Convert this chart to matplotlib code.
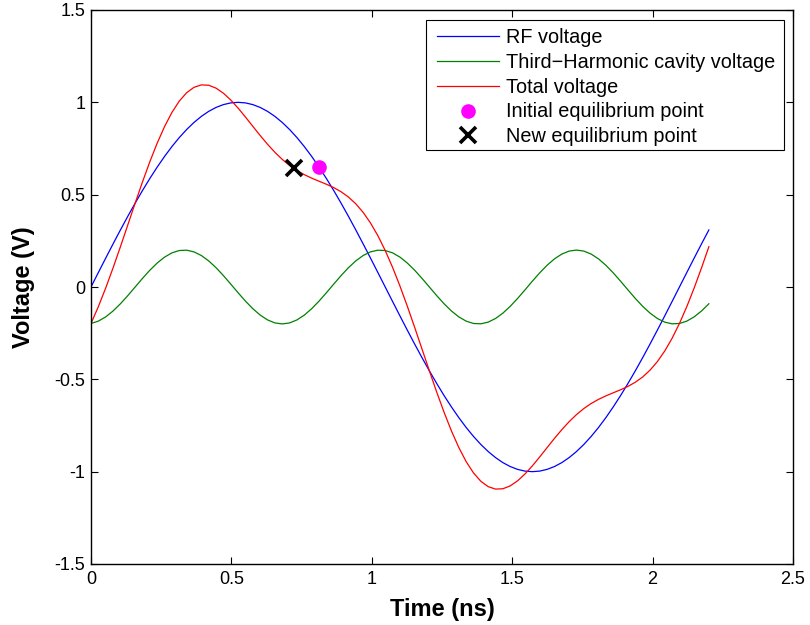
import matplotlib
matplotlib.use("Agg")
import matplotlib.pyplot as plt
from matplotlib.ticker import FuncFormatter, FixedLocator
from matplotlib.patches import Rectangle

plt.rcParams['font.family'] = ['Liberation Sans', 'DejaVu Sans']

# Time samples (ns)
time_ns = [
    0.0000, 0.0262, 0.0524, 0.0786, 0.1048, 0.1310, 0.1572, 0.1834, 0.2096, 0.2358,
    0.2620, 0.2881, 0.3143, 0.3405, 0.3667, 0.3929, 0.4191, 0.4453, 0.4715, 0.4977,
    0.5239, 0.5501, 0.5763, 0.6025, 0.6287, 0.6549, 0.6811, 0.7073, 0.7335, 0.7597,
    0.7859, 0.8120, 0.8382, 0.8644, 0.8906, 0.9168, 0.9430, 0.9692, 0.9954, 1.0216,
    1.0478, 1.0740, 1.1002, 1.1264, 1.1526, 1.1788, 1.2050, 1.2312, 1.2574, 1.2836,
    1.3098, 1.3359, 1.3621, 1.3883, 1.4145, 1.4407, 1.4669, 1.4931, 1.5193, 1.5455,
    1.5717, 1.5979, 1.6241, 1.6503, 1.6765, 1.7027, 1.7289, 1.7551, 1.7813, 1.8075,
    1.8337, 1.8598, 1.8860, 1.9122, 1.9384, 1.9646, 1.9908, 2.0170, 2.0432, 2.0694,
    2.0956, 2.1218, 2.1480, 2.1742, 2.2004,
]

rf_voltage = [
    0.00000, 0.07846, 0.15643, 0.23345, 0.30902, 0.38268, 0.45399, 0.52250, 0.58779, 0.64945,
    0.70711, 0.76041, 0.80902, 0.85264, 0.89101, 0.92388, 0.95106, 0.97237, 0.98769, 0.99692,
    1.00000, 0.99692, 0.98769, 0.97237, 0.95106, 0.92388, 0.89101, 0.85264, 0.80902, 0.76041,
    0.70711, 0.64945, 0.58779, 0.52250, 0.45399, 0.38268, 0.30902, 0.23345, 0.15643, 0.07846,
    0.00000, -0.07846, -0.15643, -0.23345, -0.30902, -0.38268, -0.45399, -0.52250, -0.58779, -0.64945,
    -0.70711, -0.76041, -0.80902, -0.85264, -0.89101, -0.92388, -0.95106, -0.97237, -0.98769, -0.99692,
    -1.00000, -0.99692, -0.98769, -0.97237, -0.95106, -0.92388, -0.89101, -0.85264, -0.80902, -0.76041,
    -0.70711, -0.64945, -0.58779, -0.52250, -0.45399, -0.38268, -0.30902, -0.23345, -0.15643, -0.07846,
    0.00000, 0.07846, 0.15643, 0.23345, 0.30902,
]

harmonic_voltage = [
    -0.19754, -0.18478, -0.16180, -0.12989, -0.09080, -0.04669, 0.00000, 0.04669, 0.09080, 0.12989,
    0.16180, 0.18478, 0.19754, 0.19938, 0.19021, 0.17053, 0.14142, 0.10450, 0.06180, 0.01569,
    -0.03129, -0.07654, -0.11756, -0.15208, -0.17820, -0.19447, -0.20000, -0.19447, -0.17820, -0.15208,
    -0.11756, -0.07654, -0.03129, 0.01569, 0.06180, 0.10450, 0.14142, 0.17053, 0.19021, 0.19938,
    0.19754, 0.18478, 0.16180, 0.12989, 0.09080, 0.04669, 0.00000, -0.04669, -0.09080, -0.12989,
    -0.16180, -0.18478, -0.19754, -0.19938, -0.19021, -0.17053, -0.14142, -0.10450, -0.06180, -0.01569,
    0.03129, 0.07654, 0.11756, 0.15208, 0.17820, 0.19447, 0.20000, 0.19447, 0.17820, 0.15208,
    0.11756, 0.07654, 0.03129, -0.01569, -0.06180, -0.10450, -0.14142, -0.17053, -0.19021, -0.19938,
    -0.19754, -0.18478, -0.16180, -0.12989, -0.09080,
]

total_voltage = [
    -0.19754, -0.10632, -0.00537, 0.10356, 0.21822, 0.33599, 0.45399, 0.56919, 0.67859, 0.77934,
    0.86891, 0.94519, 1.00656, 1.05202, 1.08122, 1.09441, 1.09248, 1.07687, 1.04949, 1.01261,
    0.96871, 0.92038, 0.87013, 0.82029, 0.77286, 0.72941, 0.69101, 0.65817, 0.63082, 0.60833,
    0.58955, 0.57291, 0.55650, 0.53819, 0.51579, 0.48718, 0.45044, 0.40398, 0.34664, 0.27784,
    0.19754, 0.10632, 0.00537, -0.10356, -0.21822, -0.33599, -0.45399, -0.56919, -0.67859, -0.77934,
    -0.86891, -0.94519, -1.00656, -1.05202, -1.08122, -1.09441, -1.09248, -1.07687, -1.04949, -1.01261,
    -0.96871, -0.92038, -0.87013, -0.82029, -0.77286, -0.72941, -0.69101, -0.65817, -0.63082, -0.60833,
    -0.58955, -0.57291, -0.55650, -0.53819, -0.51579, -0.48718, -0.45044, -0.40398, -0.34664, -0.27784,
    -0.19754, -0.10632, -0.00537, 0.10356, 0.21822,
]

initial_point = (0.812, 0.649)
new_point = (0.723, 0.642)

x_ticks = [0, 0.5, 1, 1.5, 2, 2.5]
y_ticks = [-1.5, -1, -0.5, 0, 0.5, 1, 1.5]

labels = ["RF voltage", "Third\u2212Harmonic cavity voltage", "Total voltage",
          "Initial equilibrium point", "New equilibrium point"]

W, H = 810, 625
fig = plt.figure(figsize=(W / 100, H / 100), dpi=100)
ax = fig.add_axes([91 / W, 61 / H, 702 / W, 554 / H])

ax.plot(time_ns, rf_voltage, color=(0, 0, 1), lw=0.9, label=labels[0])
ax.plot(time_ns, harmonic_voltage, color=(0, 0.5, 0), lw=0.9, label=labels[1])
ax.plot(time_ns, total_voltage, color=(1, 0, 0), lw=0.9, label=labels[2])
ax.plot([initial_point[0]], [initial_point[1]], linestyle='none', marker='o',
        color=(1, 0, 1), markersize=9.5, label=labels[3])
ax.plot([new_point[0]], [new_point[1]], linestyle='none', marker='x',
        color='black', markersize=12, markeredgewidth=2.6, label=labels[4])

ax.set_xlim(0, 2.5)
ax.set_ylim(-1.5, 1.5)
ax.xaxis.set_major_locator(FixedLocator(x_ticks))
ax.yaxis.set_major_locator(FixedLocator(y_ticks))
fmt = FuncFormatter(lambda v, p: '%g' % v)
ax.xaxis.set_major_formatter(fmt)
ax.yaxis.set_major_formatter(fmt)

ax.tick_params(direction='in', length=5, width=0.8, top=True, right=True,
               labelsize=13, colors='black')
ax.tick_params(axis='x', pad=5)
ax.tick_params(axis='y', pad=4)
for s in ax.spines.values():
    s.set_linewidth(1.0)
    s.set_color('black')

ax.set_xlabel("Time (ns)", fontsize=17, fontweight='bold')
ax.set_ylabel("Voltage (V)", fontsize=17, fontweight='bold')
ax.xaxis.set_label_coords(0.5, -0.062)
ax.yaxis.set_label_coords(-0.08, 0.5)

# legend frame (MATLAB style box)
frame = Rectangle((425.7 / W, (H - 150) / H), (784 - 425.7) / W, (150 - 20) / H,
                  transform=fig.transFigure, facecolor='white', edgecolor='black',
                  linewidth=0.8, zorder=4)
ax.add_patch(frame)
frame.set_clip_on(False)

leg = ax.legend(loc='upper left', bbox_to_anchor=(437.3 / W, (H - 27.8) / H),
                bbox_transform=fig.transFigure, fontsize=14.3, frameon=False,
                handlelength=3.12, handletextpad=0.36, labelspacing=0.297,
                borderaxespad=0, borderpad=0, numpoints=1)
leg.set_zorder(5)

fig.savefig("out.png", dpi=100)
